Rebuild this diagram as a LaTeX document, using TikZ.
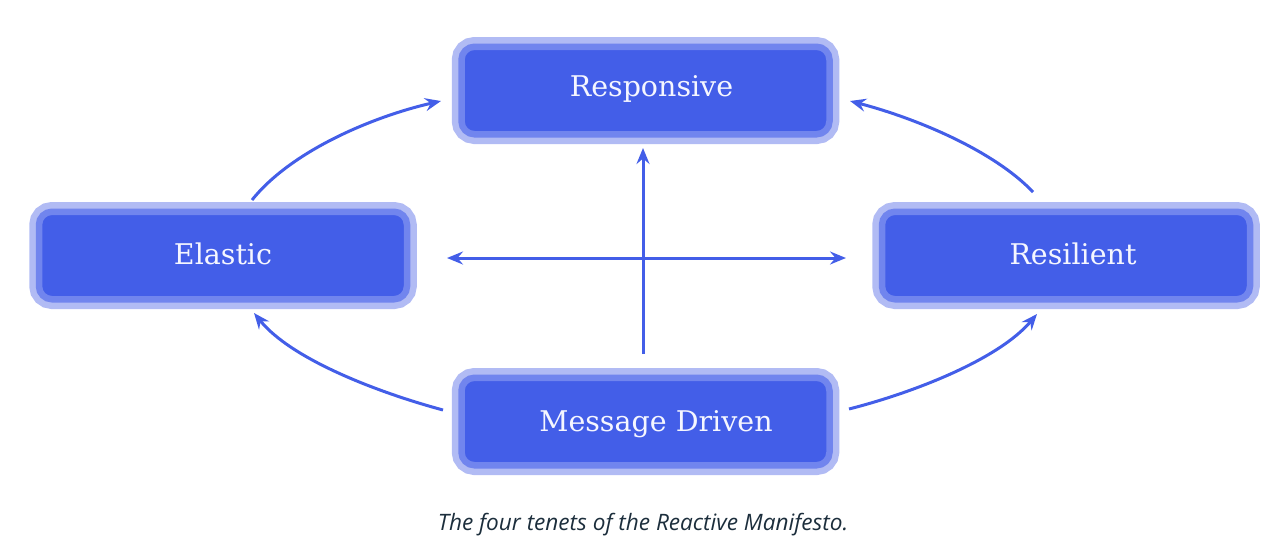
\documentclass[tikz,border=0pt]{standalone}
\usepackage{fontspec}
\usetikzlibrary{arrows.meta}
\newfontfamily\tenetfont{DejaVu Serif}
\newfontfamily\capfont{Open Sans}
\definecolor{innerblue}{RGB}{67,94,232}
\definecolor{midblue}{RGB}{113,133,238}
\definecolor{lightblue}{RGB}{177,187,244}
\definecolor{capcol}{RGB}{28,46,60}
\definecolor{txtwhite}{RGB}{245,246,255}
\newcommand{\shiftup}[2]{\raisebox{#1}[\height][\depth]{#2}}
\begin{document}
\begin{tikzpicture}[x=1pt,y=-1pt,
  tenet/.style={rounded corners=13pt, fill=innerblue, draw=midblue, line width=6.5pt,
    minimum width=368pt, minimum height=87.5pt, inner sep=0pt,
    preaction={draw=lightblue, line width=19.5pt},
    text=txtwhite, font=\tenetfont\fontsize{28.5}{34}\selectfont},
  tip/.tip={Stealth[length=16pt,width=13pt,inset=5.5pt]},
  conn/.style={draw=innerblue, line width=3pt, -tip},
  biconn/.style={conn, tip-tip}
]
\useasboundingbox (0,0) rectangle (1281,550);
\node[tenet] (resp) at (645.5,90.5) {\hspace*{12pt}\shiftup{2pt}{Responsive}};
\node[tenet] (elas) at (223,255.5) {\shiftup{2pt}{Elastic}};
\node[tenet] (resi) at (1066,255.5) {\hspace*{14pt}\shiftup{2pt}{Resilient}};
\node[tenet] (msg) at (645.5,421.5) {\hspace*{21pt}\shiftup{-3pt}{Message Driven}};
\node[font=\capfont\itshape\fontsize{22.6}{27}\selectfont, text=capcol] (cap) at (643,525) {The four tenets of the Reactive Manifesto.};

\coordinate (elasT) at (252,200);
\coordinate (respL) at (441,101);
\coordinate (resiT) at (1033,192);
\coordinate (respR) at (850,101);
\coordinate (msgL) at (443,410);
\coordinate (elasB) at (254,313);
\coordinate (msgR) at (849,409);
\coordinate (resiB) at (1037,314);
\coordinate (msgT) at (643,354);
\coordinate (respB) at (643,148);
\coordinate (hL) at (447,258);
\coordinate (hR) at (846,258);

\draw[conn] (elasT) .. controls (292,150) and (375,116) .. (respL);
\draw[conn] (resiT) .. controls (993,150) and (915,118) .. (respR);
\draw[conn] (msgL) .. controls (380,393) and (292,360) .. (elasB);
\draw[conn] (msgR) .. controls (912,393) and (998,360) .. (resiB);
\draw[conn] (msgT) -- (respB);
\draw[biconn] (hL) -- (hR);
\end{tikzpicture}
\end{document}
